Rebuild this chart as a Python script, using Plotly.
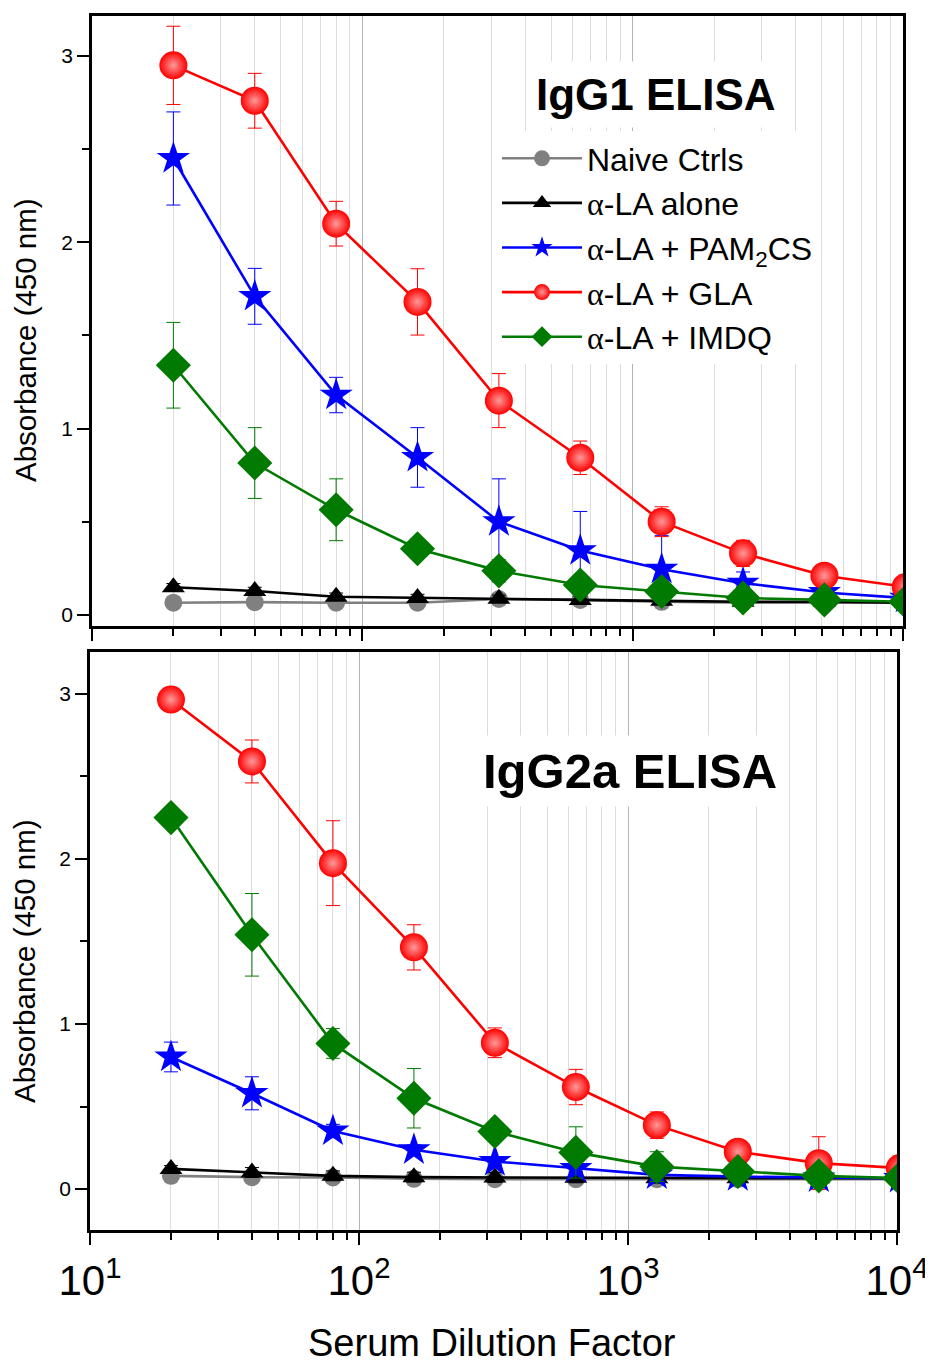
import plotly.graph_objects as go

# ---- data ----
dilution = [20, 40, 80, 160, 320, 640, 1280, 2560, 5120, 10240]

series_names = ["Naive Ctrls", "α-LA alone", "α-LA + PAM<sub>2</sub>CS", "α-LA + GLA", "α-LA + IMDQ"]

# IgG1 ELISA (top panel)
igg1_naive = [0.065, 0.068, 0.065, 0.065, 0.085, 0.08, 0.07, 0.065, 0.065, 0.065]
igg1_naive_err = [0.01, 0.01, 0.01, 0.01, 0.01, 0.01, 0.01, 0.01, 0.01, 0.01]
igg1_alone = [0.148, 0.128, 0.097, 0.09, 0.086, 0.08, 0.075, 0.07, 0.07, 0.065]
igg1_alone_err = [0.02, 0.02, 0.02, 0.02, 0.02, 0.02, 0.02, 0.01, 0.01, 0.01]
igg1_pam = [2.45, 1.71, 1.18, 0.845, 0.50, 0.345, 0.245, 0.17, 0.12, 0.09]
igg1_pam_err = [0.25, 0.15, 0.095, 0.16, 0.23, 0.21, 0.18, 0.06, 0.02, 0.01]
igg1_gla = [2.95, 2.76, 2.10, 1.68, 1.15, 0.843, 0.50, 0.33, 0.21, 0.15]
igg1_gla_err = [0.21, 0.147, 0.12, 0.178, 0.145, 0.09, 0.08, 0.07, 0.03, 0.02]
igg1_imdq = [1.34, 0.815, 0.564, 0.355, 0.236, 0.16, 0.125, 0.09, 0.08, 0.07]
igg1_imdq_err = [0.23, 0.19, 0.166, 0.04, 0.06, 0.04, 0.03, 0.02, 0.02, 0.01]

# IgG2a ELISA (bottom panel)
igg2a_naive = [0.08, 0.072, 0.07, 0.062, 0.06, 0.06, 0.06, 0.06, 0.06, 0.06]
igg2a_naive_err = [0.01, 0.01, 0.01, 0.01, 0.01, 0.01, 0.01, 0.01, 0.01, 0.01]
igg2a_alone = [0.122, 0.10, 0.08, 0.072, 0.07, 0.068, 0.066, 0.066, 0.065, 0.065]
igg2a_alone_err = [0.02, 0.03, 0.03, 0.03, 0.03, 0.03, 0.03, 0.03, 0.02, 0.01]
igg2a_pam = [0.80, 0.58, 0.352, 0.238, 0.167, 0.125, 0.086, 0.075, 0.068, 0.065]
igg2a_pam_err = [0.09, 0.10, 0.04, 0.03, 0.02, 0.02, 0.02, 0.02, 0.02, 0.01]
igg2a_gla = [2.965, 2.59, 1.974, 1.464, 0.886, 0.618, 0.387, 0.226, 0.157, 0.127]
igg2a_gla_err = [0.04, 0.13, 0.257, 0.137, 0.09, 0.107, 0.08, 0.03, 0.16, 0.02]
igg2a_imdq = [2.25, 1.54, 0.882, 0.55, 0.349, 0.222, 0.136, 0.106, 0.08, 0.066]
igg2a_imdq_err = [0.04, 0.25, 0.09, 0.18, 0.06, 0.155, 0.09, 0.02, 0.02, 0.01]

x_tickvals = [10, 100, 1000, 10000]
x_ticktext = ["10<sup>1</sup>", "10<sup>2</sup>", "10<sup>3</sup>", "10<sup>4</sup>"]

y_title = "Absorbance (450 nm)"
x_title = "Serum Dilution Factor"

# ---- layout helpers (page body adds an 8px offset) ----
W, H, OFF = 933, 1363, 8


def px(sx):
    return (sx - OFF) / W


def py(sy):
    return 1 - (sy - OFF) / H


# ---- styles ----
FONT = "Liberation Sans, Arial, sans-serif"
colors = ["#808080", "#000000", "#0000ff", "#ff0000", "#007a00"]
symbols = ["circle", "triangle-up", "star", "circle", "diamond"]
sizes = [18, 20, 25, 28, 27]
alpha = '<span style="font-family:Liberation Serif">α</span>'


def legend_name(n):
    return n.replace("α", alpha)


fig = go.Figure()

panels = [
    ("x", "y", [igg1_naive, igg1_alone, igg1_pam, igg1_gla, igg1_imdq],
     [igg1_naive_err, igg1_alone_err, igg1_pam_err, igg1_gla_err, igg1_imdq_err], True),
    ("x2", "y2", [igg2a_naive, igg2a_alone, igg2a_pam, igg2a_gla, igg2a_imdq],
     [igg2a_naive_err, igg2a_alone_err, igg2a_pam_err, igg2a_gla_err, igg2a_imdq_err], False),
]

for xa, ya, vals, errs, show in panels:
    for i in range(5):
        marker = dict(color=colors[i], symbol=symbols[i], size=sizes[i], line=dict(width=0))
        if i == 3:
            marker["gradient"] = dict(type="radial", color="#ff9a9a")
        fig.add_trace(go.Scatter(
            x=dilution, y=vals[i], xaxis=xa, yaxis=ya,
            mode="lines+markers",
            name=legend_name(series_names[i]),
            showlegend=show,
            line=dict(color=colors[i], width=2.6),
            marker=marker,
            error_y=dict(type="data", array=errs[i], visible=True,
                         color=colors[i], thickness=1, width=7),
        ))

minor_vals = [k * 10 ** e for e in (1, 2, 3) for k in range(2, 10)]

common_x = dict(
    type="log", range=[1, 4], automargin=False,
    tickmode="array", tickvals=x_tickvals, ticktext=x_ticktext,
    ticks="outside", ticklen=12, tickwidth=2, tickcolor="black",
    showline=True, linecolor="black", linewidth=2.5, mirror=True,
    showgrid=True, gridcolor="#b4b4b4", gridwidth=1,
    minor=dict(tickmode="array", tickvals=minor_vals, ticks="outside",
               ticklen=7, tickwidth=2, tickcolor="black",
               showgrid=True, gridcolor="#dcdcdc", gridwidth=1),
    zeroline=False,
)

common_y = dict(
    tickmode="linear", tick0=0, dtick=1, automargin=False,
    ticks="outside", ticklen=12, tickwidth=2, tickcolor="black",
    showline=True, linecolor="black", linewidth=2.5, mirror=True,
    showgrid=False, zeroline=False,
    minor=dict(dtick=0.5, ticks="outside", ticklen=7, tickwidth=2, tickcolor="black"),
    tickfont=dict(family=FONT, size=21, color="black"),
)

fig.update_layout(
    width=W, height=H,
    margin=dict(l=0, r=0, t=0, b=0, autoexpand=False),
    paper_bgcolor="white", plot_bgcolor="white",
    font=dict(family=FONT, color="black"),
    xaxis=dict(common_x, domain=[px(92), px(903)], anchor="y", showticklabels=False),
    yaxis=dict(common_y, domain=[py(626), py(16)], anchor="x", range=[-0.06, 3.215]),
    xaxis2=dict(common_x, domain=[px(90), px(897)], anchor="y2",
                tickfont=dict(family=FONT, size=42, color="black")),
    yaxis2=dict(common_y, domain=[py(1230), py(651.5)], anchor="x2", range=[-0.248, 3.256]),
    legend=dict(x=px(497), y=py(131), xanchor="left", yanchor="top",
                bgcolor="white", font=dict(family=FONT, size=32, color="black"),
                itemsizing="trace", itemwidth=80, tracegroupgap=0),
    showlegend=True,
)

# axis titles
for yc in (340, 961):
    fig.add_annotation(text=y_title, xref="paper", yref="paper", x=px(25), y=py(yc),
                       xanchor="center", yanchor="middle", textangle=-90, showarrow=False,
                       font=dict(family=FONT, size=29.5, color="black"))
fig.add_annotation(text=x_title, xref="paper", yref="paper", x=px(492), y=py(1343),
                   xanchor="center", yanchor="middle", showarrow=False,
                   font=dict(family=FONT, size=38, color="black"))

fig.add_annotation(text="<b>IgG1 ELISA</b>", xref="paper", yref="paper",
                   x=px(656), y=py(94), xanchor="center", yanchor="middle",
                   showarrow=False, font=dict(family=FONT, size=44, color="black"),
                   bgcolor="white", borderpad=8)
fig.add_annotation(text="<b>IgG2a ELISA</b>", xref="paper", yref="paper",
                   x=px(630), y=py(771), xanchor="center", yanchor="middle",
                   showarrow=False, font=dict(family=FONT, size=49, color="black"),
                   bgcolor="white", borderpad=8)

fig.write_html("out.html")
